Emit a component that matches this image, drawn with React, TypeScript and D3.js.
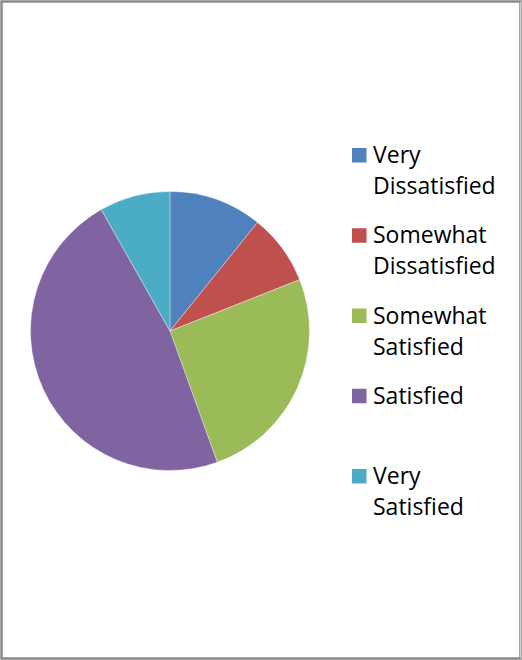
import React from "react";
import * as d3 from "d3";

const categories = ["Very Dissatisfied", "Somewhat Dissatisfied", "Somewhat Satisfied", "Satisfied", "Very Satisfied"];
const labelLines = [["Very", "Dissatisfied"], ["Somewhat", "Dissatisfied"], ["Somewhat", "Satisfied"], ["Satisfied"], ["Very", "Satisfied"]];
const values = [10.8, 8.2, 25.5, 47.3, 8.2];
const colors = ["#4F81BD", "#C0504D", "#9BBB59", "#8064A2", "#4BACC6"];

export default function App() {
  const W = 522, H = 660;
  const cx = 170, cy = 331, r = 139.5;
  const pie = d3.pie<number>().sort(null).value((d) => d);
  const arcs = pie(values);
  const arc = d3.arc<d3.PieArcDatum<number>>().innerRadius(0).outerRadius(r);
  const legendY = d3.scaleLinear().domain([0, 4]).range([163, 484]);
  return (
    <svg width={W} height={H} style={{ position: "absolute", left: 0, top: 0 }} fontFamily="'Open Sans', sans-serif">
      <rect x={0} y={0} width={W} height={H} fill="white" />
      <rect x={1.5} y={1.5} width={W - 3} height={H - 3} fill="none" stroke="#8a8a8a" strokeWidth={2.5} />
      <line x1={520.5} y1={2} x2={520.5} y2={658} stroke="#d0d0d0" strokeWidth={1} />
      <g transform={`translate(${cx},${cy})`}>
        {arcs.map((a, i) => (
          <path key={categories[i]} d={arc(a) || ""} fill={colors[i]} stroke="#ffffff" strokeWidth={0.6} strokeOpacity={0.6} />
        ))}
      </g>
      {categories.map((c, i) => {
        const y = legendY(i);
        return (
          <g key={c}>
            <rect x={352} y={y - 15} width={14.5} height={14.5} fill={colors[i]} />
            {labelLines[i].map((t, j) => (
              <text key={j} x={373} y={y + j * 31} fontSize={23} fill="#000">{t}</text>
            ))}
          </g>
        );
      })}
    </svg>
  );
}
